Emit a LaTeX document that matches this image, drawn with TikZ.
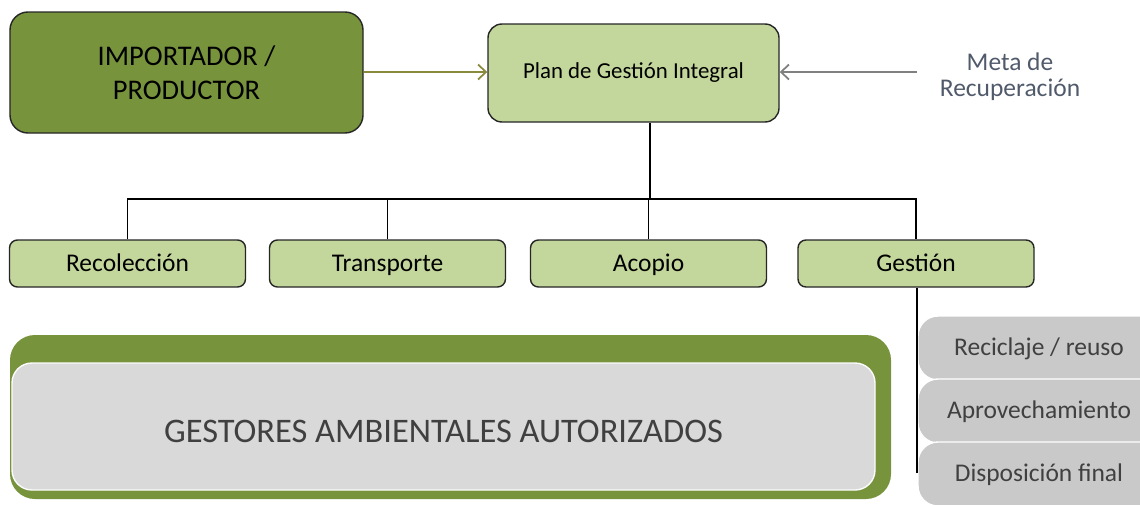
\documentclass[tikz,border=0pt]{standalone}
\usepackage{fontspec}
\setmainfont{Carlito}
\usetikzlibrary{arrows.meta}
\definecolor{olivedark}{HTML}{77933C}
\definecolor{greenlight}{HTML}{C3D69B}
\definecolor{arrowolive}{HTML}{8A8A3C}
\definecolor{metatext}{HTML}{505A6A}
\definecolor{pillgrey}{HTML}{C9C9C9}
\definecolor{boxgrey}{HTML}{D9D9D9}
\definecolor{textgrey}{HTML}{404040}
\begin{document}
\begin{tikzpicture}[x=0.2mm,y=-0.2mm,
  greenbox/.style={draw=black!85,line width=0.8pt,fill=greenlight,rounded corners=1.6mm,
    minimum width=47.2mm,minimum height=9.4mm,text height=2ex,text depth=0.2ex,
    font=\fontsize{14.5}{17}\selectfont},
  pill/.style={draw=white,line width=0.8pt,fill=pillgrey,rounded corners=4mm,
    minimum width=48.4mm,minimum height=12.8mm,text height=2ex,text depth=0.2ex,
    text=textgrey,font=\fontsize{14.5}{17}\selectfont},
  link/.style={black,line width=0.8pt}]
   \useasboundingbox (0,0) rectangle (1140,504);
   \node[draw=black!85,line width=0.8pt,fill=olivedark,rounded corners=3.6mm,minimum width=70.6mm,
     minimum height=24.2mm,align=center,font=\fontsize{16.2}{19.5}\selectfont] (imp) at (186.5,72.5)
     {IMPORTADOR /\\PRODUCTOR};
   \node[draw=black!85,line width=0.8pt,fill=greenlight,rounded corners=2.8mm,minimum width=58.2mm,
     minimum height=19.6mm,font=\fontsize{13}{15}\selectfont] (plan) at (633.5,73) {Plan de Gestión Integral};
   \node[align=center,text=metatext,font=\fontsize{14.5}{15}\selectfont] (meta) at (1010,77) {Meta de\\Recuperación};
   \coordinate (metaend) at (917,72);
   \draw[arrowolive,line width=1pt,-{Straight Barb[length=1.6mm,width=3mm]}] (imp.east |- 0,72) -- (plan.west |- 0,72);
   \draw[black!50,line width=1pt,-{Straight Barb[length=1.6mm,width=3mm]}] (metaend) -- (plan.east |- metaend);
   % actividades
   \node[greenbox] (rec) at (127.5,263.5) {Recolección};
   \node[greenbox] (tra) at (387.5,263.5) {Transporte};
   \node[greenbox] (aco) at (648.5,263.5) {Acopio};
   \node[greenbox] (ges) at (916,263.5) {Gestión};
   \coordinate (bus) at (650,199);
   \draw[link] (plan.south -| bus) -- (bus);
   \draw[link] (rec.north) |- (bus) -| (ges.north);
   \draw[link] (tra.north) -- (tra.north |- bus);
   \draw[link] (aco.north) -- (aco.north |- bus);
   % gestores
   \fill[olivedark,rounded corners=5mm] (10,335) rectangle (891,499);
   \node[draw=white!90!boxgrey,line width=0.8pt,fill=boxgrey,rounded corners=4mm,minimum width=172.6mm,
     minimum height=25.4mm,text height=18pt,text depth=0pt,text=textgrey,font=\fontsize{19.6}{23}\selectfont]
     (gestores) at (443.5,426.5) {GESTORES AMBIENTALES AUTORIZADOS};
   \node[pill] (reci) at (1039,348) {Reciclaje / reuso};
   \node[pill] (aprov) at (1039,411) {Aprovechamiento};
   \node[pill] (disp) at (1039,474) {Disposición final};
   \coordinate (gesend) at (917,473);
   \draw[link] (ges.south -| gesend) -- (gesend);
\end{tikzpicture}
\end{document}
